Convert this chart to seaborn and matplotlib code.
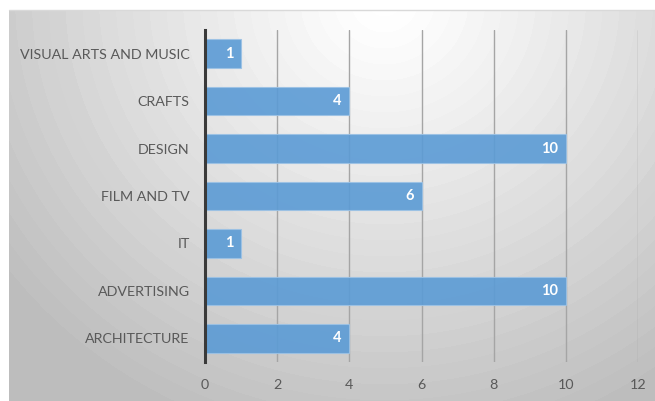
import numpy as np
import pandas as pd
import matplotlib
matplotlib.use("Agg")
import matplotlib.pyplot as plt
import seaborn as sns

categories = ["VISUAL ARTS AND MUSIC", "CRAFTS", "DESIGN", "FILM AND TV", "IT",
              "ADVERTISING", "ARCHITECTURE"]
values = [1, 4, 10, 6, 1, 10, 4]
xticks = [0, 2, 4, 6, 8, 10, 12]

df = pd.DataFrame({"category": categories, "value": values})

sns.set_theme(style="white")
plt.rcParams["font.family"] = ["Lato", "DejaVu Sans"]

W, H = 655, 401
fig = plt.figure(figsize=(W / 100, H / 100), dpi=100)
fig.patch.set_facecolor("white")

# radial gradient background panel
bg = fig.add_axes([9 / W, 0, 1 - 9 / W, 1 - 10 / H], zorder=0)
px_w, px_h = W - 9, H - 10
yy, xx = np.mgrid[0:px_h, 0:px_w]
cx, cy = 375, -10
d = np.sqrt((xx - cx) ** 2 + ((yy - cy) * 1.05) ** 2)
t = np.clip(d / 470, 0, 1)
t = np.floor(t * 28) / 28
v = 1.0 - 0.26 * t ** 1.1
bg.imshow(v, cmap="gray", vmin=0, vmax=1, aspect="auto", interpolation="bilinear")
bg.set_axis_off()
fig.add_artist(plt.Line2D([9 / W, 1], [1 - 10 / H, 1 - 10 / H], transform=fig.transFigure,
                          color="#d9d9d9", lw=1.0, zorder=1))

ax = fig.add_axes([205 / W, 1 - 362 / H, (638 - 205) / W, (362 - 30) / H], zorder=2)
ax.patch.set_alpha(0)

sns.barplot(data=df, x="value", y="category", order=categories, orient="h",
            color="#5B9BD5", width=0.6, ax=ax, saturation=1,
            edgecolor="#9cc2e5", linewidth=0.8, alpha=0.9, zorder=3)

ax.set_xlim(0, 12)
ax.set_ylim(6.5, -0.5)
ax.set_xticks(xticks)
ax.set_xticklabels([str(x) for x in xticks])
ax.set_xlabel("")
ax.set_ylabel("")
for x in xticks[1:]:
    ax.axvline(x, color="#a5a5a5", lw=1.0, zorder=2)

for s in ["top", "right", "bottom"]:
    ax.spines[s].set_visible(False)
ax.spines["left"].set_color("#3a3a3a")
ax.spines["left"].set_linewidth(2.2)
ax.spines["left"].set_zorder(5)

ax.tick_params(axis="x", length=0, pad=12, labelsize=10.3, labelcolor="#595959")
ax.tick_params(axis="y", length=0, pad=11, labelsize=10.3, labelcolor="#595959")

for i, v_ in enumerate(values):
    ax.text(v_ - 0.22, i, str(v_), ha="right", va="center", color="white",
            fontsize=10.5, fontweight="bold", zorder=6)

fig.savefig("out.png", dpi=100)
